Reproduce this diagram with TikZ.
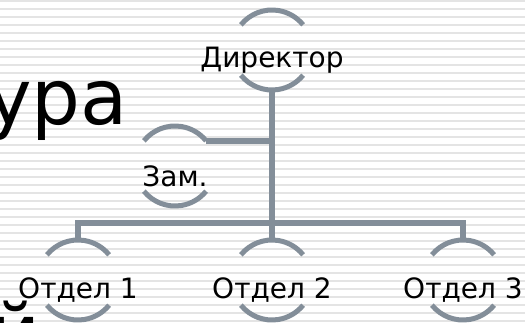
\documentclass[tikz,border=0pt]{standalone}
\usepackage{fontspec}
\setmainfont{DejaVu Sans}
\usetikzlibrary{positioning,calc}
\definecolor{linegray}{RGB}{131,142,153}
\definecolor{stripegray}{RGB}{228,228,228}
\tikzset{
	hub/.style={circle, minimum size=80pt, inner sep=0pt, outer sep=0pt},
	lbl/.style={font=\fontsize{28}{32}\selectfont, inner sep=0pt, anchor=base, yshift=-10pt},
	big/.style={font=\fontsize{77}{90}\selectfont, inner sep=0pt, anchor=base east},
	arcline/.style={line width=5pt, linegray},
	link/.style={line width=5.5pt, linegray},
}
\begin{document}
\begin{tikzpicture}[x=1pt,y=1pt]
		\useasboundingbox (0,0) rectangle (525,-323);
		\clip (0,0) rectangle (525,-323);
		\fill[white] (0,0) rectangle (525,-323);
		\foreach \y in {1,9,...,321}
			\draw[stripegray, line width=2pt] (0,-\y) -- (525,-\y);
		\node[big] (title) at (128,-125) {ура};
		\node[big] (title2) at (41,-359) {й};
		\node[hub, label={[lbl]center:Директор}] (dir) at (272,-50) {};
		\node[hub, label={[lbl]center:Зам.}] (zam) at (175,-166) {};
		\node[hub, label={[lbl]center:Отдел 1}] (d1) at (78,-280) {};
		\node[hub, label={[lbl]center:Отдел 2}] (d2) at (272,-280) {};
		\node[hub, label={[lbl]center:Отдел 3}] (d3) at (463,-280) {};
		\foreach \n in {dir,zam,d1,d2,d3} {
			\draw[arcline] (\n.141) arc[start angle=141, end angle=39, radius=40pt];
			\draw[arcline] (\n.219) arc[start angle=219, end angle=321, radius=40pt];
		}
		\coordinate (bus) at (272,-223);
		\draw[link] (dir.south) -- (d2.north);
		\draw[link] (zam.39) -- (zam.39 -| dir);
		\draw[link] (d1.north) |- (bus) -| (d3.north);
	\end{tikzpicture}
\end{document}
